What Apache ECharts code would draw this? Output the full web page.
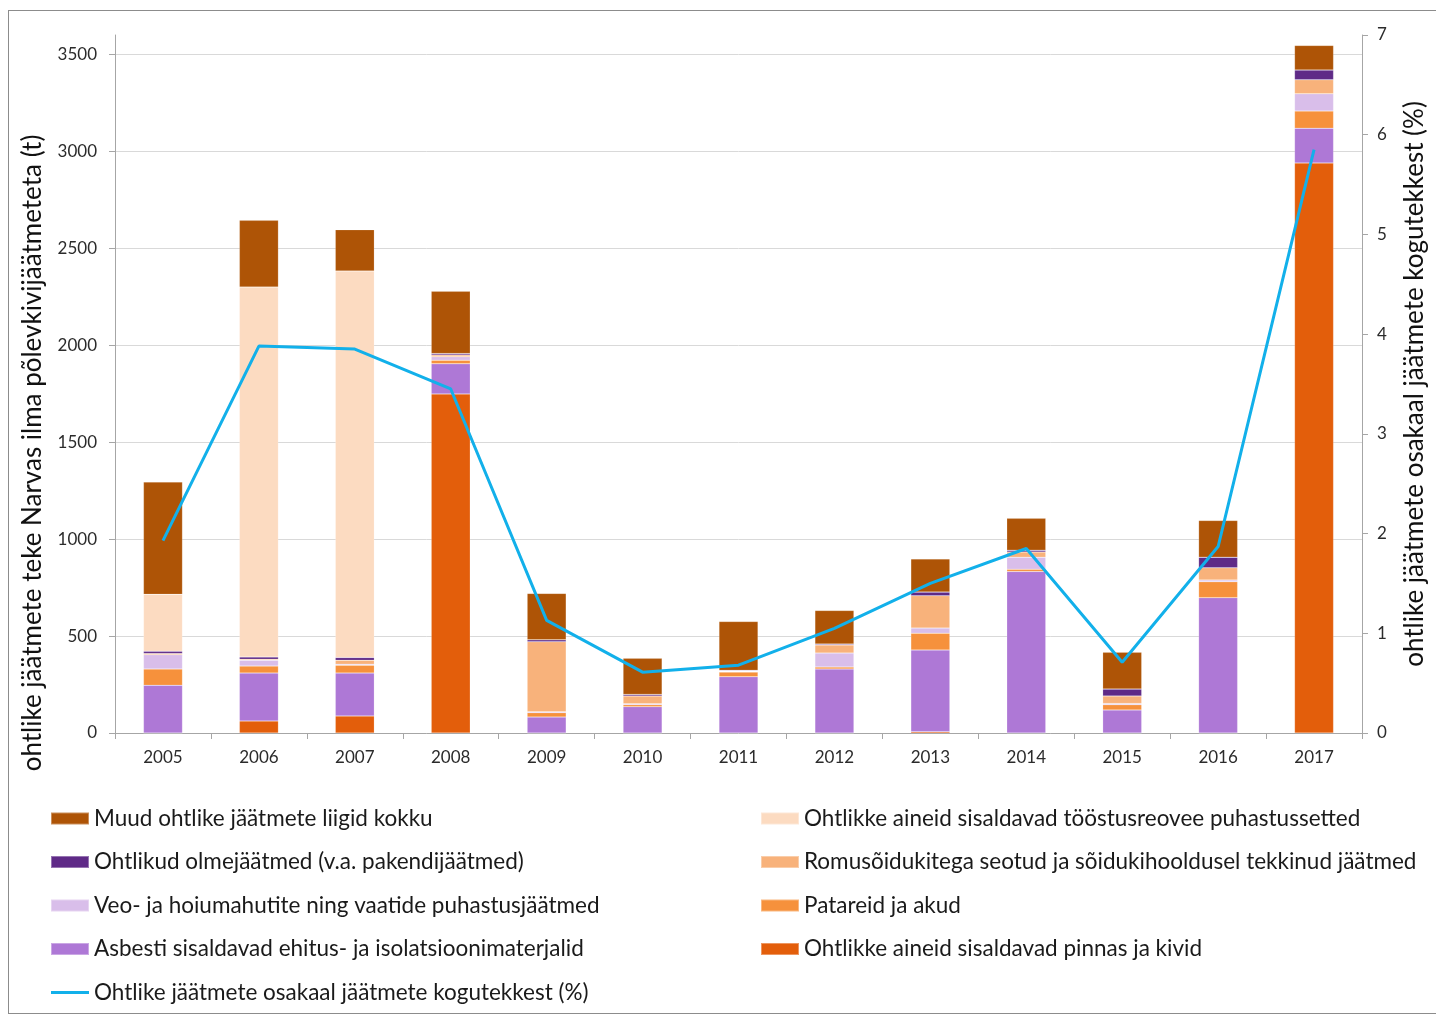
<!DOCTYPE html>
<html>
<head>
<meta charset="utf-8">
<script src="https://cdn.jsdelivr.net/npm/echarts@6/dist/echarts.min.js"></script>
<style>
html,body{margin:0;padding:0;background:#fff;}
#frame{position:absolute;left:8px;top:10px;width:1440px;height:1004px;border:1px solid #8c8c8c;box-sizing:border-box;}
#chart{position:absolute;left:0;top:0;width:1436px;height:1018px;}
</style>
</head>
<body>
<div id="frame"></div>
<div id="chart"></div>
<script>
const years = ['2005','2006','2007','2008','2009','2010','2011','2012','2013','2014','2015','2016','2017'];
const leftTicks = [0,500,1000,1500,2000,2500,3000,3500];
const rightTicks = [0,1,2,3,4,5,6,7];

const pinnas  = [0,62,88,1749,0,0,0,0,7,0,0,0,2940];
const asbest  = [246,247,221,155,82,136,290,330,421,833,119,698,179];
const patarei = [84,36,41,19,23,10,24,10,87,12,27,82,89];
const veo     = [74,30,5,18,5,5,3,72,26,62,6,9,89];
const romu    = [6,5,20,8,361,40,3,42,167,26,39,63,72];
const olme    = [12,12,14,8,10,8,3,5,19,10,36,55,51];
const toostus = [293,1908,1994,0,0,0,0,0,0,0,0,0,0];
const muud    = [579,344,213,321,239,186,252,173,171,164,189,189,126];
const osakaal = [1.93,3.88,3.85,3.45,1.13,0.61,0.68,1.05,1.50,1.85,0.71,1.87,5.85];

const N = {
  muud:'Muud ohtlike jäätmete liigid kokku',
  toostus:'Ohtlikke aineid sisaldavad tööstusreovee puhastussetted',
  olme:'Ohtlikud olmejäätmed (v.a. pakendijäätmed)',
  romu:'Romusõidukitega seotud ja sõidukihooldusel tekkinud jäätmed',
  veo:'Veo- ja hoiumahutite ning vaatide puhastusjäätmed',
  patarei:'Patareid ja akud',
  asbest:'Asbesti sisaldavad ehitus- ja isolatsioonimaterjalid',
  pinnas:'Ohtlikke aineid sisaldavad pinnas ja kivid',
  line:'Ohtlike jäätmete osakaal jäätmete kogutekkest (%)'
};
const C = {
  muud:'#AE5406', toostus:'#FCDBC1', olme:'#5F2A87', romu:'#F8B27B',
  veo:'#D9BEEA', patarei:'#F6913C', asbest:'#AE78D6', pinnas:'#E35E0B', line:'#12B0EA'
};
const FONT = 'Lato';
const LINE_ICON = 'path://M0,4.5 H38 V7.5 H0 Z M0,0 H0.01 V0.01 H0 Z M37.99,11.99 H38 V12 H37.99 Z';

function bar(key, data){
  return {name:N[key], type:'bar', stack:'s', data:data, barWidth:39,
    itemStyle:{color:C[key], borderColor:'rgba(255,255,255,0.35)', borderWidth:0.5},
    emphasis:{disabled:true}, animation:false};
}

const chart = echarts.init(document.getElementById('chart'), null, {renderer:'canvas'});
const legendText = {fontFamily:FONT, fontSize:22.5, color:'#1a1a1a'};
const plain = v => String(v);
chart.setOption({
  animation:false,
  textStyle:{fontFamily:FONT},
  grid:{left:115, right:64, top:35, bottom:285, containLabel:false},
  legend:[
    {left:50, top:807, padding:0, orient:'vertical', itemWidth:38, itemHeight:12, itemGap:20.5, textStyle:legendText, itemTextGap:3,
     selectedMode:false,
     data:[{name:N.muud,icon:'rect'},{name:N.olme,icon:'rect'},{name:N.veo,icon:'rect'},{name:N.asbest,icon:'rect'},{name:N.line,icon:LINE_ICON}]},
    {left:760, top:807, padding:0, orient:'vertical', itemWidth:38, itemHeight:12, itemGap:20.5, textStyle:legendText, itemTextGap:3,
     selectedMode:false,
     data:[{name:N.toostus,icon:'rect'},{name:N.romu,icon:'rect'},{name:N.patarei,icon:'rect'},{name:N.pinnas,icon:'rect'}]}
  ],
  xAxis:{type:'category', data:years, boundaryGap:true,
    axisLine:{lineStyle:{color:'#a6a6a6', width:1}},
    axisTick:{show:true, alignWithLabel:false, length:6, lineStyle:{color:'#a6a6a6'}},
    axisLabel:{fontFamily:FONT, fontSize:17, color:'#2b2b2b', margin:16, interval:0}},
  yAxis:[
    {type:'value', min:0, max:3600, interval:500, position:'left',
     name:'ohtlike jäätmete teke Narvas ilma põlevkivijäätmeteta (t)', nameLocation:'middle', nameRotate:90, nameGap:69,
     nameTextStyle:{fontFamily:FONT, fontSize:26, color:'#111', padding:[0,138,0,0]},
     axisLine:{show:true, lineStyle:{color:'#a6a6a6'}},
     axisTick:{show:true, length:6, lineStyle:{color:'#a6a6a6'}, customValues:leftTicks},
     axisLabel:{fontFamily:FONT, fontSize:17, color:'#2b2b2b', margin:18, customValues:leftTicks, formatter:plain},
     splitLine:{show:true, lineStyle:{color:['#d9d9d9','#d9d9d9','#d9d9d9','#d9d9d9','#d9d9d9','#d9d9d9','#d9d9d9','#d9d9d9','rgba(0,0,0,0)'], width:1}}},
    {type:'value', min:0, max:7, interval:1, position:'right',
     name:'ohtlike jäätmete osakaal jäätmete kogutekkest (%)', nameLocation:'middle', nameRotate:90, nameGap:40,
     nameTextStyle:{fontFamily:FONT, fontSize:26, color:'#111'},
     axisLine:{show:true, lineStyle:{color:'#a6a6a6'}},
     axisTick:{show:true, length:6, lineStyle:{color:'#a6a6a6'}, customValues:rightTicks},
     axisLabel:{fontFamily:FONT, fontSize:17, color:'#2b2b2b', margin:15, customValues:rightTicks, formatter:plain},
     splitLine:{show:false}}
  ],
  series:[
    bar('pinnas', pinnas),
    bar('asbest', asbest),
    bar('patarei', patarei),
    bar('veo', veo),
    bar('romu', romu),
    bar('olme', olme),
    bar('toostus', toostus),
    bar('muud', muud),
    {name:N.line, type:'line', yAxisIndex:1, data:osakaal, symbol:'none', showSymbol:false,
     lineStyle:{color:C.line, width:3}, itemStyle:{color:C.line}, z:10, animation:false}
  ]
});
</script>
</body>
</html>
